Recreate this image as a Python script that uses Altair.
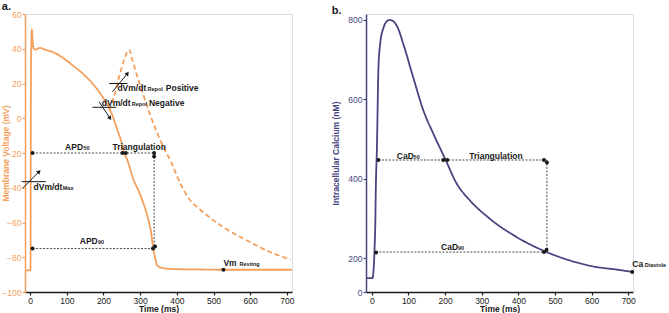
import altair as alt
import pandas as pd

# ---------------- Panel a : membrane voltage ----------------
ap_time = [-14, 1, 2, 3, 4.5, 7, 10, 14, 20, 27, 40, 61, 88, 115, 143, 170, 193, 211, 224,
           238, 250, 256, 265, 279, 302, 320, 330, 335, 341, 347, 361, 389, 450, 527, 600, 714]
ap_mv = [-87.5, -87.5, 10, 40, 51, 44, 40, 39.5, 40, 40.5, 39.5, 38.2, 35, 30.6, 25.8, 20, 13.7, 7.6, 1.8,
         -6.8, -14.4, -19.6, -24, -33.6, -45, -56.6, -66, -73.8, -80.5, -84.9, -86.2, -86.8, -87, -87.2, -87.2, -87.2]

tri_time = [215, 222, 231, 242.5, 256, 270, 279, 292.6, 310.6, 329, 347, 365, 384, 402, 429,
            470, 524, 588, 651, 710]
tri_mv = [4.5, 8, 14.3, 23.8, 33.4, 39.4, 33.4, 23.8, 12.3, 0.9, -8.7, -17.3, -25, -34, -45,
          -53.7, -62.3, -70, -76.7, -81.4]

# dotted guides (APD50 / triangulation / APD90)
a_guide_t = [6.5, 338, 6.5]
a_guide_v = [-20, -20, -75]
a_guide_t2 = [338, 338, 335]
a_guide_v2 = [-20, -75, -75]

# tangents and arrow shafts
a_line_t = [215.5, 224.5, 170, 188, -23, -20.7]
a_line_v = [20, 15.2, 6.3, 9.5, -36.5, -40.3]
a_line_t2 = [265.5, 265.5, 235, 218, 43, 24.5]
a_line_v2 = [20, 25.8, 6.3, 0, -36.5, -30.7]

# arrow heads
a_head_t = [265.5, 218, 24.5]
a_head_v = [25.8, 0, -30.7]
a_head_angle = [39, 146, 45]

# markers
a_dot_t = [6.5, 251.6, 260.8, 338, 338, 6.5, 335, 340.6, 527]
a_dot_v = [-20, -20, -20, -20, -22, -75, -75, -73.8, -87.2]

# labels
a_text = ["dVm/dt", "Positive", "dVm/dt", "Negative", "dVm/dt", "APD", "Triangulation", "APD", "Vm"]
a_text_t = [238, 370, 195.4, 324, 9.3, 95.3, 224.5, 135.4, 527]
a_text_v = [17.2, 17.2, 8.9, 8.9, -39.7, -16.4, -16.4, -70.9, -83.3]
a_sub = ["Repol", "Repol", "Max", "50", "90", "Resting"]
a_sub_t = [320, 277, 89, 145.5, 185, 571]
a_sub_v = [16.6, 8.3, -40.3, -17.0, -71.5, -83.9]

# ---------------- Panel b : intracellular calcium ----------------
ca_time = [-16, 1.6, 9, 11, 13.6, 18, 22.6, 31.6, 40, 48, 58, 70, 86, 113, 141, 168, 200, 232, 268,
           322, 395, 467, 540, 613, 668, 711]
ca_nm = [82, 82, 270, 387, 470, 680, 739, 780, 796, 800, 797, 782, 739, 655, 571, 513, 450, 387, 345,
         299, 253, 219, 186, 147, 132, 118]

b_guide_t = [18, 478, 11]
b_guide_v = [447, 447, 215]
b_guide_t2 = [478, 478, 477]
b_guide_v2 = [447, 215, 215]

b_dot_t = [18, 195, 206, 470, 478, 11.7, 470, 477, 711]
b_dot_v = [447, 447, 447, 447, 441, 214, 215, 221, 118]

b_text = ["CaD", "Triangulation", "CaD", "Ca"]
b_text_t = [68, 266, 189, 711]
b_text_v = [458, 458, 228, 163]
b_sub = ["50", "90", "Diastole"]
b_sub_t = [114, 235, 745]
b_sub_v = [455, 225, 159]

ORANGE = "#F4A05C"
NAVY = "#46457F"
BLACK = "#1a1a1a"
FONT = "Liberation Sans"
W, H = 267, 278


def xaxis():
    return alt.Axis(values=[0, 100, 200, 300, 400, 500, 600, 700], grid=False, domainColor=BLACK,
                    tickColor=BLACK, labelColor=BLACK, titleColor=BLACK, domainWidth=1.5, tickWidth=1.2,
                    tickSize=3, labelFontSize=8.5, titleFontSize=8.5, titleFontWeight="bold",
                    labelPadding=1, titlePadding=0, labelFont=FONT, titleFont=FONT)


def yaxis(color, values, title_pad):
    return alt.Axis(values=values, grid=False, domainColor=color, tickColor=color, labelColor=color,
                    titleColor=color, domainWidth=1.5, tickWidth=1.2, tickSize=3, labelFontSize=8.5,
                    titleFontSize=8.5, titleFontWeight="bold", labelPadding=1, titlePadding=title_pad,
                    labelFont=FONT, titleFont=FONT)


def panel(xdom, ycale, yax, ytitle, curves, guides, lines, heads, dots, texts, subs, title):
    X = alt.X("t:Q", scale=alt.Scale(domain=xdom, nice=False, zero=False), axis=xaxis(), title="Time (ms)")
    Y = alt.Y("v:Q", scale=ycale, axis=yax, title=ytitle)
    layers = []
    for df, color, dash in curves:
        m = alt.Chart(df).mark_line(color=color, strokeWidth=1.8, interpolate="monotone",
                                    strokeDash=dash if dash else [1, 0])
        layers.append(m.encode(x=X, y=Y, order="i:Q"))
    layers.append(alt.Chart(guides).mark_rule(color=BLACK, strokeWidth=0.8, strokeDash=[2, 1.5])
                  .encode(x=X, y=Y, x2="t2:Q", y2="v2:Q"))
    if lines is not None:
        layers.append(alt.Chart(lines).mark_rule(color=BLACK, strokeWidth=1)
                      .encode(x=X, y=Y, x2="t2:Q", y2="v2:Q"))
        layers.append(alt.Chart(heads).mark_point(shape="triangle-up", filled=True, color=BLACK,
                                                  size=22, opacity=1)
                      .encode(x=X, y=Y, angle=alt.Angle("a:Q", scale=None)))
    layers.append(alt.Chart(dots).mark_circle(color=BLACK, size=16, opacity=1).encode(x=X, y=Y))
    layers.append(alt.Chart(texts).mark_text(align="left", baseline="middle", fontSize=8.5,
                                             fontWeight="bold", font=FONT, color=BLACK)
                  .encode(x=X, y=Y, text="s:N"))
    layers.append(alt.Chart(subs).mark_text(align="left", baseline="middle", fontSize=5.5,
                                            fontWeight="bold", font=FONT, color=BLACK)
                  .encode(x=X, y=Y, text="s:N"))
    return alt.layer(*layers).properties(
        width=W, height=H,
        title=alt.TitleParams(title, anchor="start", frame="bounds", fontSize=11, fontWeight="bold",
                              font=FONT, offset=-1.5, color=BLACK))


def seg(t, v, t2, v2):
    return pd.DataFrame({"t": t, "v": v, "t2": t2, "v2": v2})


def pts(t, v):
    return pd.DataFrame({"t": t, "v": v, "i": list(range(len(t)))})


def txt(s, t, v):
    return pd.DataFrame({"s": s, "t": t, "v": v})


left = panel(
    [-14, 714],
    alt.Scale(domain=[-100, 60], nice=False, zero=False),
    yaxis(ORANGE, [-100, -80, -60, -40, -20, 0, 20, 40, 60], -9),
    "Membrane Voltage (mV)",
    [(pts(tri_time, tri_mv), ORANGE, [5, 3]), (pts(ap_time, ap_mv), ORANGE, None)],
    seg(a_guide_t, a_guide_v, a_guide_t2, a_guide_v2),
    seg(a_line_t, a_line_v, a_line_t2, a_line_v2),
    pd.DataFrame({"t": a_head_t, "v": a_head_v, "a": a_head_angle}),
    pts(a_dot_t, a_dot_v),
    txt(a_text, a_text_t, a_text_v),
    txt(a_sub, a_sub_t, a_sub_v),
    "a.",
)

right = panel(
    [-16, 713],
    alt.Scale(domain=[0, 200, 815], range=[H, H - 34, 0], nice=False, zero=False),
    yaxis(NAVY, [0, 200, 400, 600, 800], 7),
    "Intracellular Calcium (nM)",
    [(pts(ca_time, ca_nm), NAVY, None)],
    seg(b_guide_t, b_guide_v, b_guide_t2, b_guide_v2),
    None, None,
    pts(b_dot_t, b_dot_v),
    txt(b_text, b_text_t, b_text_v),
    txt(b_sub, b_sub_t, b_sub_v),
    "b.",
)

chart = alt.hconcat(left, right, spacing=34).properties(
    padding={"left": 1, "top": 0, "right": 0, "bottom": 0}
).configure_view(stroke=None).configure(font=FONT)

chart.save("out.html", embed_options={"renderer": "svg", "actions": False})
